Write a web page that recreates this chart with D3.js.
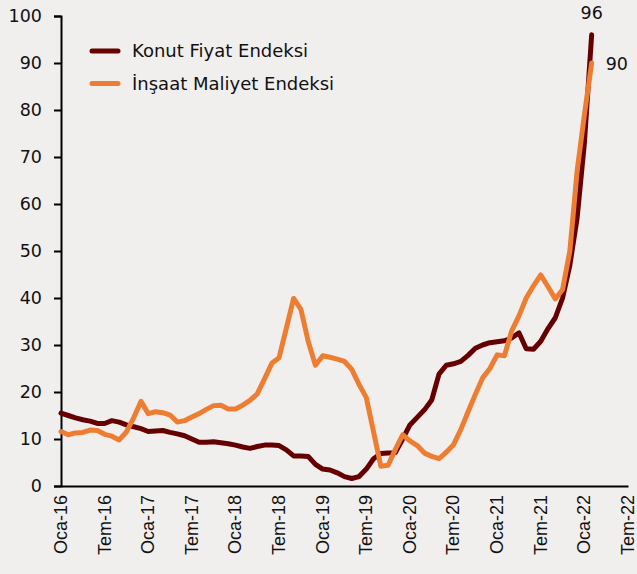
<!DOCTYPE html>
<html>
<head>
<meta charset="utf-8">
<script src="https://d3js.org/d3.v7.min.js"></script>
<style>
  body { margin: 0; background: #f1efee; }
  svg { display: block; }
</style>
</head>
<body>
<div id="chart"></div>
<script>

// data (monthly, Oca-16 onwards)
const seriesNames = ["Konut Fiyat Endeksi", "İnşaat Maliyet Endeksi"];
const konut = [
  15.5, 15.0, 14.5, 14.1, 13.8, 13.3, 13.3, 13.9, 13.6, 13.0, 12.6, 12.2,
  11.6, 11.7, 11.8, 11.4, 11.1, 10.7, 10.0, 9.3, 9.3, 9.4, 9.2, 9.0,
  8.7, 8.3, 8.0, 8.4, 8.7, 8.7, 8.6, 7.7, 6.4, 6.4, 6.3, 4.6,
  3.6, 3.4, 2.8, 2.0, 1.6, 2.0, 3.6, 5.8, 6.9, 7.0, 7.1, 10.0,
  13.0, 14.6, 16.2, 18.3, 23.8, 25.7, 26.0, 26.5, 27.8, 29.3, 30.0, 30.5,
  30.7, 30.9, 31.5, 32.6, 29.2, 29.1, 30.8, 33.5, 35.8, 40.0, 47.0, 57.0,
  73.0, 96.0
];
const insaat = [
  11.6, 10.9, 11.3, 11.4, 11.9, 11.8, 11.0, 10.6, 9.8, 11.5, 14.5, 18.0,
  15.4, 15.8, 15.6, 15.1, 13.6, 13.9, 14.7, 15.4, 16.3, 17.1, 17.2, 16.4,
  16.4, 17.2, 18.2, 19.6, 22.8, 26.1, 27.3, 33.6, 39.9, 37.6, 30.8, 25.7,
  27.7, 27.4, 27.0, 26.5, 24.8, 21.6, 18.8, 11.5, 4.2, 4.4, 7.8, 10.9,
  9.6, 8.6, 7.0, 6.3, 5.8, 7.2, 8.8, 12.0, 15.8, 19.5, 23.0, 25.0,
  27.9, 27.7, 33.0, 36.2, 40.0, 42.6, 44.9, 42.4, 39.8, 41.8, 50.0, 67.0,
  79.0, 90.0
];
const tickLabels = ["Oca-16", "Tem-16", "Oca-17", "Tem-17", "Oca-18", "Tem-18", "Oca-19",
  "Tem-19", "Oca-20", "Tem-20", "Oca-21", "Tem-21", "Oca-22", "Tem-22"];
const yTicks = [0, 10, 20, 30, 40, 50, 60, 70, 80, 90, 100];

// constants
const W = 637, H = 574;
const colors = ["#660000", "#ED7D31"];
const tickFont = "'DejaVu Sans', Tahoma, sans-serif";

const svg = d3.select("#chart").append("svg")
  .attr("width", W)
  .attr("height", H);

svg.append("rect")
  .attr("width", W)
  .attr("height", H)
  .attr("fill", "#f1efee");

const x = d3.scaleLinear().domain([0, (tickLabels.length - 1) * 6]).range([61, 628]);
const y = d3.scaleLinear().domain([0, 100]).range([486, 16]);

// y axis
const yAxis = svg.append("g")
  .attr("transform", `translate(${x(0)},0)`)
  .call(d3.axisLeft(y).tickValues(yTicks).tickSize(7).tickPadding(12));
yAxis.selectAll("text")
  .style("font-family", tickFont)
  .style("font-size", "17.5px")
  .attr("fill", "#111");
yAxis.selectAll("line, path").attr("stroke", "#000").attr("stroke-width", 2);

// x axis
const xAxis = svg.append("g")
  .attr("transform", `translate(0,${y(0)})`)
  .call(d3.axisBottom(x)
    .tickValues(d3.range(0, tickLabels.length * 6, 6))
    .tickFormat((d, i) => tickLabels[i])
    .tickSize(0)
    .tickSizeOuter(0));
xAxis.select("path").attr("stroke", "#000").attr("stroke-width", 2);
xAxis.selectAll("text")
  .style("font-family", "'Liberation Sans', Arial, sans-serif")
  .style("font-size", "18px")
  .attr("fill", "#111")
  .attr("transform", "rotate(-90)")
  .attr("text-anchor", "end")
  .attr("x", -9)
  .attr("y", 0)
  .attr("dy", "0.3em");

// lines
const line = d3.line()
  .x((d, i) => x(i))
  .y(d => y(d));

[konut, insaat].forEach((s, k) => {
  svg.append("path")
    .datum(s)
    .attr("fill", "none")
    .attr("stroke", colors[k])
    .attr("stroke-width", 5)
    .attr("stroke-linejoin", "round")
    .attr("stroke-linecap", "round")
    .attr("d", line);
});

// end labels
const lastK = konut.length - 1;
svg.append("text")
  .attr("x", x(lastK))
  .attr("y", y(konut[lastK]) - 16)
  .attr("text-anchor", "middle")
  .style("font-family", tickFont)
  .style("font-size", "17.5px")
  .attr("fill", "#111")
  .text(Math.round(konut[lastK]));
const lastI = insaat.length - 1;
svg.append("text")
  .attr("x", x(lastI) + 14)
  .attr("y", y(insaat[lastI]) + 7)
  .style("font-family", tickFont)
  .style("font-size", "17.5px")
  .attr("fill", "#111")
  .text(Math.round(insaat[lastI]));

// legend
const legend = svg.append("g").attr("transform", "translate(90,51)");
seriesNames.forEach((name, k) => {
  const g = legend.append("g").attr("transform", `translate(0,${k * 32.5})`);
  g.append("line")
    .attr("x1", 2).attr("x2", 28)
    .attr("y1", 0).attr("y2", 0)
    .attr("stroke", colors[k])
    .attr("stroke-width", 5)
    .attr("stroke-linecap", "round");
  g.append("text")
    .attr("x", 42)
    .attr("y", 6)
    .style("font-family", tickFont)
    .style("font-size", "18px")
    .attr("fill", "#111")
    .text(name);
});

</script>
</body>
</html>
